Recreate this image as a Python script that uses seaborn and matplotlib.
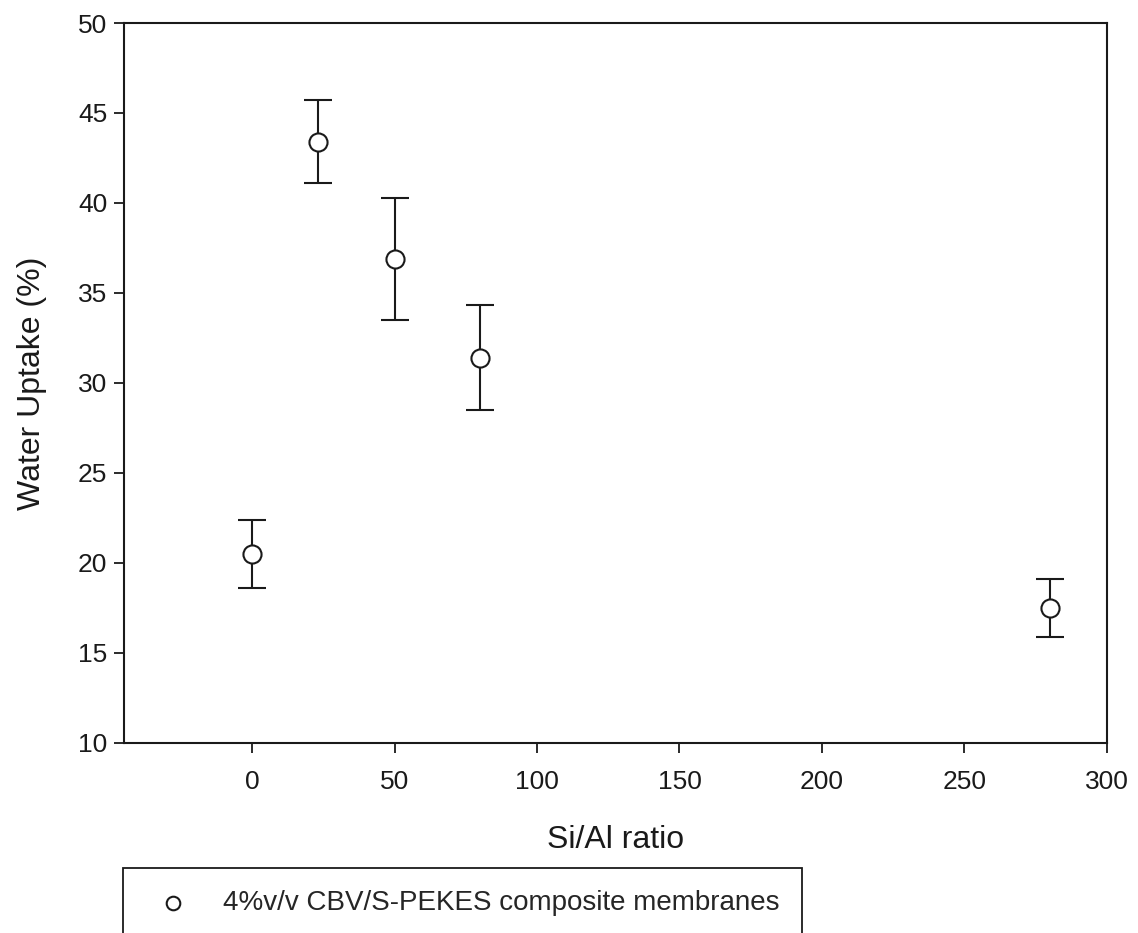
import matplotlib

matplotlib.use("Agg")
import matplotlib.pyplot as plt
import pandas as pd
import seaborn as sns

si_al_ratio = [0, 23, 50, 80, 280]
water_uptake = [20.5, 43.4, 36.9, 31.4, 17.5]
uptake_error = [1.9, 2.3, 3.4, 2.9, 1.6]
series_label = "4%v/v CBV/S-PEKES composite membranes"

x_ticks = [0, 50, 100, 150, 200, 250, 300]
y_ticks = [10, 15, 20, 25, 30, 35, 40, 45, 50]

sns.set_style("ticks")
plt.rcParams["font.family"] = ["Liberation Sans", "DejaVu Sans"]

data = pd.DataFrame({"ratio": si_al_ratio, "uptake": water_uptake, "err": uptake_error})

fig = plt.figure(figsize=(11.38, 9.33), dpi=100)
ax = fig.add_axes([0.109, 0.204, 0.8635, 0.7713])

ax.errorbar(
    data["ratio"], data["uptake"], yerr=data["err"],
    fmt="none", ecolor="#1a1a1a", elinewidth=1.5, capsize=10, capthick=1.5, zorder=2,
)
sns.scatterplot(
    data=data, x="ratio", y="uptake", ax=ax,
    marker="o", s=170, facecolor="white", edgecolor="#1a1a1a", linewidth=1.5,
    label=series_label, zorder=3, legend=False,
)

ax.set_xlim(-45, 300)
ax.set_ylim(10, 50)
ax.set_xticks(x_ticks)
ax.set_yticks(y_ticks)
ax.tick_params(axis="x", direction="out", length=7, width=1.3, pad=13, labelsize=19, colors="#1a1a1a")
ax.tick_params(axis="y", direction="out", length=7, width=1.3, pad=5, labelsize=19, colors="#1a1a1a")
for spine in ax.spines.values():
    spine.set_visible(True)
    spine.set_linewidth(1.5)
    spine.set_color("#1a1a1a")

ax.set_xlabel("Si/Al ratio", fontsize=23, labelpad=22, color="#1a1a1a")
ax.set_ylabel("Water Uptake (%)", fontsize=23, labelpad=22, color="#1a1a1a")

handles, labels = ax.get_legend_handles_labels()
legend = ax.legend(
    handles, labels,
    loc="upper left", bbox_to_anchor=(0.108, 0.0697), bbox_transform=fig.transFigure,
    borderaxespad=0, borderpad=0.8, fontsize=20, fancybox=False, framealpha=1,
    edgecolor="#1a1a1a", markerscale=0.75,
)
legend.get_frame().set_linewidth(1.3)

fig.savefig("out.png", dpi=100)
